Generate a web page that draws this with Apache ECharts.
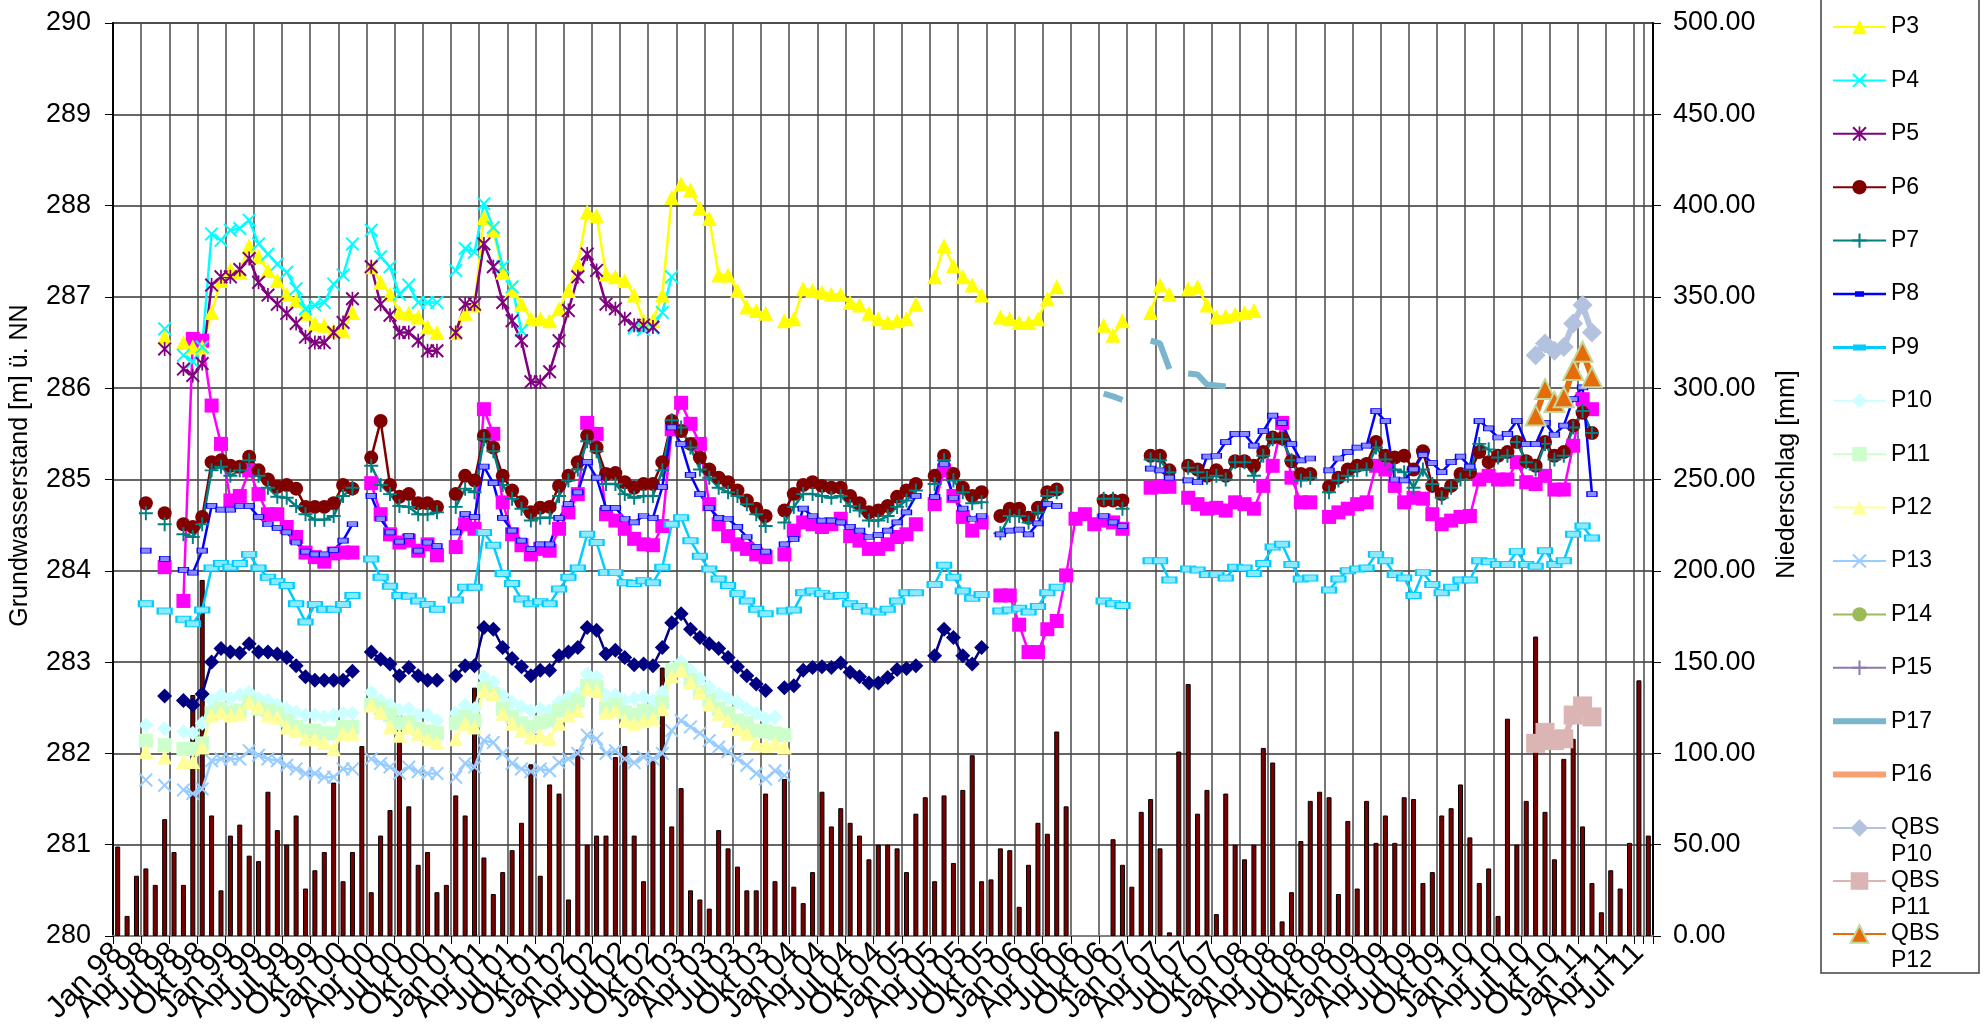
<!DOCTYPE html>
<html><head><meta charset="utf-8">
<script src="https://cdn.jsdelivr.net/npm/echarts@6/dist/echarts.min.js"></script>
<style>html,body{margin:0;padding:0;background:#fff;}#c{width:1984px;height:1027px;}</style>
</head><body><div id="c"></div>
<script>
const n = null;
const monthNames = ['Jan','Feb','Mrz','Apr','Mai','Jun','Jul','Aug','Sep','Okt','Nov','Dez'];
const yearLabels = ['98','99','00','01','02','03','04','05','06','07','08','09','10','11'];
const categories = [];
for (const y of yearLabels) for (const m of monthNames) if (categories.length < 164) categories.push(m + ' ' + y);
const blank = k => Array(k).fill(null);
const rows = (...r) => [].concat(...r);

// Niederschlag [mm], monthly Jan 98 .. Aug 11
const rain = rows(
 [49,11,33,37,28,64,46,28,132,195,66,25],
 [55,61,44,41,79,58,50,66,26,36,46,84],
 [30,46,104,24,55,69,125,71,39,46,24,28],
 [77,66,136,43,23,35,47,62,94,33,83,78],
 [20,102,50,55,55,98,104,55,30,96,147,60],
 [81,25,20,15,58,48,38,25,25,78,30,86],
 [27,18,35,79,60,70,62,55,42,50,50,48],
 [35,67,76,30,77,40,80,99,30,31,48,47],
 [16,39,62,56,112,71,n,n,n,n,53,39],
 [27,68,75,48,2,101,138,67,80,12,78,50],
 [42,50,103,95,8,24,52,74,79,76,23,63],
 [26,74,51,66,51,76,75,29,35,66,70,83],
 [54,29,37,11,119,50,74,164,68,42,97,108],
 [60,29,13,36,26,51,140,55]
);
const P1 = rows(
 [n,n,n,n,n,282.63,n,282.58,282.53,282.65,283.00,283.15],
 [283.11,283.10,283.20,283.11,283.11,283.09,283.05,282.96,282.84,282.80,282.80,282.80],
 [282.80,282.90,n,283.11,283.03,282.98,282.85,282.94,282.85,282.80,282.80,n],
 [282.85,282.96,282.96,283.38,283.36,283.16,283.04,282.95,282.85,282.91,282.91,283.07],
 [283.11,283.16,283.38,283.35,283.09,283.13,283.05,282.97,282.98,282.96,283.16,283.43],
 [283.53,283.36,283.27,283.20,283.15,283.05,282.95,282.85,282.76,282.69,n,282.72],
 [282.74,282.91,282.94,282.95,282.94,282.99,282.89,282.84,282.77,282.77,282.83,282.92],
 [282.93,282.96,n,283.07,283.36,283.27,283.07,282.98,283.16]
);
const P2 = rows(
 [n,n,n,n,n,284.04,n,283.67,286.54,286.52,285.81,285.39],
 [284.77,284.82,285.10,284.84,284.62,284.62,284.48,284.37,284.20,284.15,284.10,284.19],
 [284.20,284.20,n,284.96,284.62,284.40,284.31,284.33,284.22,284.29,284.17,n],
 [284.26,284.51,284.46,285.77,285.50,284.75,284.40,284.28,284.18,284.24,284.22,284.46],
 [284.64,284.84,285.62,285.50,284.62,284.55,284.46,284.35,284.29,284.28,284.49,285.55],
 [285.84,285.61,285.39,284.73,284.51,284.38,284.29,284.24,284.18,284.15,n,284.18],
 [284.44,284.53,284.51,284.48,284.51,284.57,284.38,284.33,284.24,284.24,284.29,284.37],
 [284.40,284.51,n,284.73,285.10,284.82,284.59,284.44,284.53,n,283.73,283.73],
 [283.41,283.11,283.11,283.36,283.45,283.95,284.57,284.62,284.51,284.55,284.53,284.46],
 [n,n,284.91,284.92,284.92,n,284.80,284.73,284.68,284.69,284.66,284.75],
 [284.73,284.68,284.93,285.15,285.62,285.02,284.75,284.75,n,284.59,284.64,284.68],
 [284.73,284.75,285.15,285.11,284.93,284.75,284.80,284.79,284.62,284.51,284.55,284.59],
 [284.60,285.00,285.04,285.00,285.00,285.19,284.97,284.95,285.04,284.89,284.89,285.37],
 [285.88,285.77]
);
const P3 = rows(
 [n,n,n,n,n,286.56,n,286.50,286.45,286.45,286.83,287.18],
 [287.30,287.27,287.56,287.44,287.29,287.18,287.03,286.96,286.82,286.71,286.69,286.63],
 [286.63,286.83,n,287.33,287.16,287.03,286.83,286.82,286.78,286.67,286.61,n],
 [286.61,286.82,286.91,287.87,287.73,287.27,287.07,286.92,286.76,286.76,286.74,286.87],
 [287.07,287.36,287.93,287.89,287.25,287.22,287.18,287.02,286.74,286.74,287.02,288.09],
 [288.24,288.17,287.97,287.86,287.24,287.24,287.07,286.89,286.85,286.82,n,286.74],
 [286.76,287.09,287.07,287.05,287.03,287.03,286.94,286.91,286.82,286.76,286.72,286.74],
 [286.76,286.92,n,287.22,287.56,287.34,287.22,287.13,287.02,n,286.78,286.76],
 [286.72,286.72,286.76,286.98,287.11,n,n,n,n,286.69,286.58,286.74],
 [n,n,286.83,287.13,287.03,n,287.09,287.11,286.91,286.78,286.79,286.81],
 [286.83,286.85]
);
const P4 = rows(
 [n,n,n,n,n,286.65,n,286.36,286.29,286.45,287.69,287.62],
 [287.73,287.75,287.84,287.58,287.47,287.36,287.27,287.09,286.87,286.91,286.94,287.14],
 [287.24,287.58,n,287.73,287.44,287.33,287.03,287.13,286.94,286.94,286.94,n],
 [287.29,287.53,287.49,288.02,287.76,287.33,287.11,286.63,n,n,n,n],
 [n,n,n,n,n,n,n,286.66,286.64,286.66,286.83,287.22]
);
const P5 = rows(
 [n,n,n,n,n,286.43,n,286.21,286.14,286.27,287.13,287.22],
 [287.22,287.30,287.42,287.16,287.02,286.92,286.82,286.71,286.56,286.50,286.50,286.61],
 [286.72,286.98,n,287.33,286.92,286.80,286.61,286.61,286.52,286.41,286.41,n],
 [286.61,286.92,286.92,287.58,287.33,286.94,286.74,286.52,286.07,286.07,286.18,286.52],
 [286.85,287.22,287.47,287.29,286.92,286.87,286.76,286.69,286.69,286.67]
);
const P6 = rows(
 [n,n,n,284.74,n,284.63,n,284.51,284.48,284.59,285.19,285.21],
 [285.15,285.14,285.25,285.10,285.00,284.92,284.94,284.90,284.70,284.70,284.70,284.74],
 [284.94,284.90,n,285.24,285.64,284.94,284.81,284.84,284.74,284.74,284.70,n],
 [284.84,285.04,284.99,285.48,285.35,285.04,284.88,284.75,284.64,284.69,284.70,284.93],
 [285.04,285.19,285.48,285.35,285.06,285.07,284.97,284.91,284.95,284.95,285.19,285.64],
 [285.53,285.39,285.24,285.11,285.02,284.97,284.88,284.77,284.68,284.60,n,284.66],
 [284.84,284.94,284.97,284.93,284.91,284.91,284.82,284.74,284.64,284.66,284.71,284.81],
 [284.88,284.95,n,285.04,285.26,285.06,284.91,284.82,284.86,n,284.60,284.68],
 [284.68,284.58,284.69,284.86,284.89,n,n,n,n,284.77,284.77,284.77],
 [n,n,285.26,285.26,285.10,n,285.15,285.11,285.04,285.10,285.04,285.20],
 [285.20,285.15,285.30,285.46,285.45,285.20,285.06,285.06,n,284.92,285.02,285.11],
 [285.15,285.17,285.41,285.26,285.24,285.26,285.11,285.31,284.93,284.84,284.93,285.06],
 [285.08,285.30,285.19,285.26,285.30,285.41,285.20,285.15,285.41,285.26,285.30,285.59],
 [285.73,285.51]
);
const P7 = rows(
 [n,n,n,284.63,n,284.51,n,284.40,284.37,284.51,285.10,285.14],
 [285.04,285.10,285.21,285.04,284.91,284.81,284.80,284.71,284.62,284.56,284.56,284.60],
 [284.82,284.91,n,285.15,284.94,284.84,284.71,284.70,284.62,284.62,284.64,n],
 [284.70,284.90,284.86,285.44,285.31,284.94,284.79,284.68,284.55,284.58,284.58,284.82],
 [284.99,285.11,285.42,285.31,284.95,284.95,284.84,284.80,284.82,284.82,285.10,285.65],
 [285.57,285.35,285.11,285.02,284.91,284.86,284.82,284.73,284.62,284.49,n,284.53],
 [284.70,284.84,284.84,284.82,284.80,284.82,284.71,284.66,284.55,284.55,284.60,284.70],
 [284.77,284.88,n,284.95,285.21,284.99,284.86,284.74,284.75,n,284.41,284.60],
 [284.60,284.53,284.64,284.82,284.86,n,n,n,n,284.79,284.79,284.68],
 [n,n,285.22,285.21,285.08,n,285.13,285.08,285.02,285.04,285.00,285.19],
 [285.19,285.04,285.26,285.44,285.44,285.21,284.99,285.02,n,284.86,284.99,285.04],
 [285.10,285.11,285.35,285.22,285.11,285.08,284.91,285.11,284.95,284.80,284.91,285.00],
 [285.11,285.39,285.33,285.24,285.26,285.41,285.19,285.11,285.39,285.22,285.26,285.57],
 [285.75,285.51]
);
const P8 = rows(
 [n,n,n,284.22,n,284.13,n,284.01,283.98,284.22,284.71,284.67],
 [284.67,284.71,284.71,284.59,284.51,284.47,284.42,284.31,284.21,284.18,284.18,284.23],
 [284.33,284.51,n,284.82,284.57,284.42,284.32,284.38,284.22,284.31,284.27,n],
 [284.42,284.62,284.59,285.14,284.96,284.58,284.44,284.33,284.24,284.29,284.29,284.58],
 [284.73,284.86,285.19,285.02,284.69,284.69,284.57,284.53,284.60,284.58,284.92,285.57],
 [285.39,285.05,284.84,284.69,284.58,284.57,284.48,284.37,284.26,284.21,n,284.29],
 [284.35,284.68,284.60,284.55,284.55,284.53,284.48,284.44,284.37,284.39,284.44,284.53],
 [284.64,284.82,n,284.81,285.17,284.80,284.68,284.57,284.60,n,284.40,284.44],
 [284.45,284.40,284.52,284.73,284.71,n,n,n,n,284.60,284.53,284.49],
 [n,n,285.12,285.10,285.02,n,284.99,284.97,285.25,285.26,285.41,285.50],
 [285.50,285.37,285.53,285.70,285.62,285.39,285.21,285.23,n,285.10,285.23,285.30],
 [285.35,285.37,285.75,285.64,285.00,284.99,285.11,285.27,285.18,285.08,285.19,285.25],
 [285.14,285.64,285.56,285.46,285.50,285.64,285.39,285.39,285.62,285.49,285.59,285.88],
 [286.01,284.84]
);
const P9 = rows(
 [n,n,n,283.64,n,283.56,n,283.47,283.42,283.57,284.03,284.08],
 [284.04,284.08,284.18,284.03,283.93,283.88,283.84,283.64,283.44,283.63,283.58,283.58],
 [283.63,283.73,n,284.13,283.93,283.83,283.73,283.72,283.67,283.63,283.58,n],
 [283.68,283.82,283.82,284.42,284.28,283.97,283.86,283.69,283.64,283.66,283.64,283.80],
 [283.93,284.03,284.40,284.31,283.98,283.98,283.87,283.86,283.89,283.87,284.04,284.51],
 [284.58,284.33,284.16,284.02,283.91,283.84,283.75,283.67,283.58,283.53,n,283.56],
 [283.57,283.76,283.78,283.75,283.72,283.73,283.64,283.61,283.56,283.55,283.58,283.67],
 [283.76,283.76,n,283.85,284.06,283.93,283.78,283.70,283.74,n,283.56,283.57],
 [283.59,283.55,283.61,283.76,283.82,n,n,n,n,283.67,283.64,283.62],
 [n,n,284.11,284.11,283.90,n,284.02,284.01,283.96,283.96,283.92,284.04],
 [284.03,283.97,284.08,284.26,284.29,284.07,283.91,283.92,n,283.79,283.91,284.00],
 [284.02,284.03,284.18,284.11,283.96,283.92,283.73,283.98,283.85,283.76,283.82,283.90],
 [283.90,284.11,284.10,284.07,284.07,284.21,284.07,284.05,284.22,284.07,284.11,284.40],
 [284.49,284.36]
);
const P10 = rows(
 [n,n,n,282.31,n,282.27,n,282.24,282.22,282.33,282.58,282.64],
 [282.60,282.64,282.67,282.60,282.58,282.53,282.49,282.45,282.42,282.42,282.40,282.42],
 [282.44,282.44,n,282.67,282.58,282.53,282.47,282.49,282.42,282.42,282.36,n],
 [282.44,282.53,282.49,282.84,282.78,282.64,282.56,282.51,282.47,282.49,282.47,282.56],
 [282.62,282.65,282.87,282.84,282.64,282.64,282.58,282.60,282.62,282.58,282.67,282.94],
 [283.00,282.91,282.82,282.73,282.65,282.60,282.56,282.49,282.44,282.38,282.40]
);
const P11 = rows(
 [n,n,n,282.14,n,282.09,n,282.05,282.05,282.11,282.44,282.49],
 [282.45,282.47,282.56,282.49,282.47,282.44,282.36,282.29,282.25,282.25,282.22,282.22],
 [282.29,282.29,n,282.53,282.49,282.42,282.33,282.34,282.27,282.24,282.22,n],
 [282.33,282.40,282.36,282.71,282.65,282.49,282.40,282.33,282.29,282.34,282.36,282.47],
 [282.51,282.58,282.74,282.73,282.49,282.53,282.45,282.42,282.47,282.44,282.56,282.91],
 [282.93,282.80,282.67,282.58,282.49,282.44,282.36,282.33,282.25,282.24,282.22,282.20]
);
const P12 = rows(
 [n,n,n,282.02,n,281.96,n,281.91,281.91,282.07,282.42,282.45],
 [282.42,282.44,282.56,282.51,282.42,282.40,282.29,282.25,282.16,282.16,282.12,282.05],
 [282.22,282.22,n,282.53,282.45,282.29,282.20,282.29,282.22,282.16,282.12,n],
 [282.16,282.33,282.29,282.69,282.65,282.44,282.33,282.25,282.18,282.20,282.16,282.33],
 [282.42,282.47,282.71,282.69,282.45,282.47,282.36,282.33,282.36,282.38,282.49,282.85],
 [282.91,282.78,282.67,282.54,282.44,282.36,282.27,282.22,282.11,282.09,282.11,282.07]
);
const P13 = rows(
 [n,n,n,281.71,n,281.65,n,281.60,281.56,281.61,281.92,281.94],
 [281.94,281.94,282.03,281.98,281.94,281.92,281.87,281.83,281.78,281.78,281.74,281.74],
 [281.83,281.83,n,281.94,281.89,281.85,281.78,281.85,281.80,281.78,281.78,n],
 [281.74,281.89,281.85,282.14,282.12,282.00,281.89,281.83,281.80,281.83,281.81,281.90],
 [281.94,282.00,282.20,282.16,282.00,282.03,281.94,281.90,281.96,281.94,282.00,282.25],
 [282.36,282.29,282.22,282.14,282.07,282.02,281.94,281.87,281.78,281.72,281.81,281.76]
);
const P14 = [], P15 = [], P16 = [];
const P17 = rows(blank(96),
 [n,n,n,n,n,n,n,n,n,285.94,285.91,285.87],
 [n,n,286.52,286.49,286.21,n,286.16,286.15,286.04,286.03,286.02]
);
const QBS_P10 = rows(blank(151), [286.36,286.49,286.41,286.45,286.71,286.91,286.61]);
const QBS_P11 = rows(blank(151), [282.11,282.23,282.14,282.16,282.42,282.52,282.40]);
const QBS_P12 = rows(blank(151), [285.70,285.99,285.85,285.90,286.20,286.40,286.12]);

const FONT = "'Liberation Sans', Arial, sans-serif";
const XS = 'path://M0,1L1,0L5,4L9,0L10,1L6,5L10,9L9,10L5,6L1,10L0,9L4,5Z';
const STAR = 'path://M0,1L1,0L5,4L9,0L10,1L6,5L10,9L9,10L5,6L1,10L0,9L4,5Z M4.4,0L5.6,0L5.6,10L4.4,10Z';
const PLUS = 'path://M4.3,0L5.7,0L5.7,4.3L10,4.3L10,5.7L5.7,5.7L5.7,10L4.3,10L4.3,5.7L0,5.7L0,4.3L4.3,4.3Z';
const BAR_ICON = 'path://M0,0L53,0L53,6L0,6Z';
const P8_ICON = 'path://M0,2L53,2L53,4.5L0,4.5Z M22,0.5L31,0.5L31,6L22,6Z';
const P9_ICON = 'path://M0,2L53,2L53,5L0,5Z M20,0.5L33,0.5L33,6.5L20,6.5Z';

function ln(name, data, o) {
  return {
    name, type: 'line', data, yAxisIndex: 0, connectNulls: false,
    symbol: o.symbol, symbolSize: o.size, showSymbol: o.symbol !== 'none', showAllSymbol: true,
    lineStyle: { color: o.color, width: o.lw || 2.5 },
    itemStyle: { color: o.fill || o.color, borderColor: o.border || o.color, borderWidth: o.bw || 0 },
    emphasis: { disabled: true }, animation: false
  };
}

const series = [
  { name: 'Niederschlag', type: 'bar', yAxisIndex: 1, data: rain, barWidth: 5,
    itemStyle: { color: '#7a0000', borderColor: '#000', borderWidth: 1 }, animation: false, emphasis: { disabled: true } },
  ln('P1', P1, { color: '#000080', symbol: 'diamond', size: 15 }),
  ln('P2', P2, { color: '#ff00ff', symbol: 'rect', size: 14 }),
  ln('P3', P3, { color: '#ffff00', symbol: 'triangle', size: 15 }),
  ln('P4', P4, { color: '#00ffff', symbol: XS, size: 14 }),
  ln('P5', P5, { color: '#800080', symbol: STAR, size: 14 }),
  ln('P6', P6, { color: '#800000', symbol: 'circle', size: 14 }),
  ln('P7', P7, { color: '#008080', symbol: PLUS, size: 14 }),
  ln('P8', P8, { color: '#0000ff', symbol: 'rect', size: [10, 5], fill: '#8c8cff', border: '#0000ff', bw: 1 }),
  ln('P9', P9, { color: '#00ccff', symbol: 'rect', size: [14, 6], fill: '#8ce8ff', border: '#00ccff', bw: 1.5 }),
  ln('P10', P10, { color: '#ccffff', symbol: 'diamond', size: 15 }),
  ln('P11', P11, { color: '#ccffcc', symbol: 'rect', size: 14 }),
  ln('P12', P12, { color: '#ffff99', symbol: 'triangle', size: 15 }),
  ln('P13', P13, { color: '#99ccff', symbol: XS, size: 14 }),
  ln('P14', P14, { color: '#9bbb59', symbol: 'circle', size: 14, lw: 6 }),
  ln('P15', P15, { color: '#8c79af', symbol: PLUS, size: 14, lw: 6 }),
  ln('P17', P17, { color: '#7ab6cb', symbol: 'none', size: 0, lw: 6 }),
  ln('P16', P16, { color: '#f7a072', symbol: 'none', size: 0, lw: 6 }),
  ln('QBS P10', QBS_P10, { color: '#b3c2de', symbol: 'diamond', size: 20, lw: 6 }),
  ln('QBS P11', QBS_P11, { color: '#dbb5b4', symbol: 'rect', size: 19, lw: 6 }),
  ln('QBS P12', QBS_P12, { color: '#e46c0a', symbol: 'triangle', size: 20, lw: 6, border: '#c4d79b', bw: 2 })
];

const legendText = { fontFamily: FONT, fontSize: 23, lineHeight: 26, color: '#000' };
const qbsLegend = (name, center) => ({
  data: [name], orient: 'vertical', left: 1832, top: center - 40.5, padding: 0,
  itemWidth: 53, itemHeight: 22, selectedMode: false,
  formatter: nm => ' \n' + nm.replace(' ', '\n'),
  textStyle: { fontFamily: FONT, fontSize: 23, lineHeight: 27, color: '#000' }
});

const option = {
  animation: false,
  backgroundColor: '#fff',
  grid: { left: 112, right: 331, top: 23, bottom: 91, show: true, borderColor: '#a0a0a0', borderWidth: 2, backgroundColor: 'transparent' },
  xAxis: {
    type: 'category', data: categories, boundaryGap: true,
    axisLine: { lineStyle: { color: '#808080', width: 2 } },
    axisTick: { show: true, interval: 2, length: 8, lineStyle: { color: '#000', width: 1 } },
    axisLabel: { interval: 0, rotate: 45, fontFamily: FONT, fontSize: 31, color: '#000', margin: 12,
                 formatter: (v, i) => (i % 3 === 0 ? v : '') },
    splitLine: { show: true, interval: 2, lineStyle: { color: '#4a4a4a', width: 1.5 } }
  },
  yAxis: [
    { type: 'value', min: 280, max: 290, interval: 1, position: 'left',
      name: 'Grundwasserstand [m] ü. NN', nameLocation: 'middle', nameGap: 80, nameRotate: 90,
      nameTextStyle: { fontFamily: FONT, fontSize: 25, color: '#000', padding: [0, 0, 0, 28] },
      axisLine: { show: true, lineStyle: { color: '#000', width: 2 } },
      axisTick: { show: true, inside: false, length: 8, lineStyle: { color: '#000' } },
      axisLabel: { fontFamily: FONT, fontSize: 27, color: '#000', margin: 22 },
      splitLine: { show: true, lineStyle: { color: '#333', width: 1.5 } } },
    { type: 'value', min: 0, max: 500, interval: 50, position: 'right',
      name: 'Niederschlag [mm]', nameLocation: 'middle', nameGap: 122, nameRotate: 90,
      nameTextStyle: { fontFamily: FONT, fontSize: 25, color: '#000', padding: [0, 0, 0, 10] },
      axisLine: { show: true, lineStyle: { color: '#000', width: 2 } },
      axisTick: { show: true, inside: false, length: 8, lineStyle: { color: '#000' } },
      axisLabel: { fontFamily: FONT, fontSize: 27, color: '#000', margin: 20, formatter: v => v.toFixed(2) },
      splitLine: { show: false } }
  ],
  legend: [
    { data: ['P3','P4','P5','P6','P7',
             { name: 'P8', icon: P8_ICON, itemStyle: { color: '#0000ff', borderWidth: 0 } },
             { name: 'P9', icon: P9_ICON, itemStyle: { color: '#00ccff', borderWidth: 0 } },
             'P10','P11','P12','P13','P14','P15',
             { name: 'P17', icon: BAR_ICON }, { name: 'P16', icon: BAR_ICON }],
      orient: 'vertical', left: 1832, top: 14, padding: 0, itemWidth: 53, itemHeight: 18, itemGap: 27.4,
      selectedMode: false, textStyle: legendText },
    qbsLegend('QBS P10', 828), qbsLegend('QBS P11', 881), qbsLegend('QBS P12', 934)
  ],
  graphic: [
    { type: 'rect', shape: { x: 1821, y: -10, width: 158, height: 983 }, style: { fill: 'none', stroke: '#404040', lineWidth: 1.5 }, silent: true }
  ],
  series
};
const chart = echarts.init(document.getElementById('c'), null, { renderer: 'canvas' });
chart.setOption(option);
</script></body></html>
